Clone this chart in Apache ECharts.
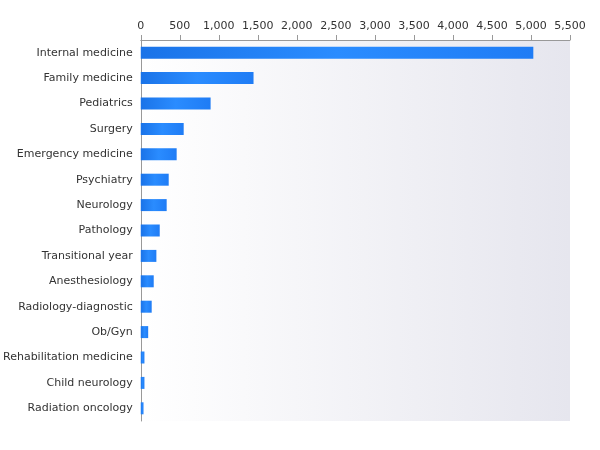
<!DOCTYPE html><html><head><meta charset="utf-8"><script src="https://cdn.jsdelivr.net/npm/echarts@6/dist/echarts.min.js"></script></head><body style="margin:0"><div id="c" style="width:600px;height:450px"></div><script>
const categories=["Internal medicine","Family medicine","Pediatrics","Surgery","Emergency medicine","Psychiatry","Neurology","Pathology","Transitional year","Anesthesiology","Radiology-diagnostic","Ob/Gyn","Rehabilitation medicine","Child neurology","Radiation oncology"];
const values=[5030,1445,895,550,460,358,332,243,200,166,140,95,47,47,35];
const ch=echarts.init(document.getElementById('c'));
ch.setOption({animation:false,
grid:{left:140,right:30,top:40,bottom:29,show:true,borderWidth:0,
backgroundColor:new echarts.graphic.LinearGradient(0,0,1,0,[{offset:0,color:'#ffffff'},{offset:1,color:'#e6e6ee'}])},
xAxis:{type:'value',position:'top',min:0,max:5500,interval:500,splitLine:{show:false},
axisLine:{show:true,lineStyle:{color:'#999'}},axisTick:{show:true,lineStyle:{color:'#999'}},
axisLabel:{color:'#333',fontSize:11,fontFamily:'DejaVu Sans'}},
yAxis:{type:'category',inverse:true,data:categories,axisLine:{lineStyle:{color:'#999'}},axisTick:{show:false},
axisLabel:{color:'#333',fontSize:11,fontFamily:'DejaVu Sans'}},
series:[{type:'bar',data:values,barWidth:12,
itemStyle:{color:new echarts.graphic.LinearGradient(0,0,1,0,[{offset:0,color:'#1a73e8'},{offset:0.5,color:'#2a8cff'},{offset:1,color:'#1f7cf5'}])}}]});
</script></body></html>
